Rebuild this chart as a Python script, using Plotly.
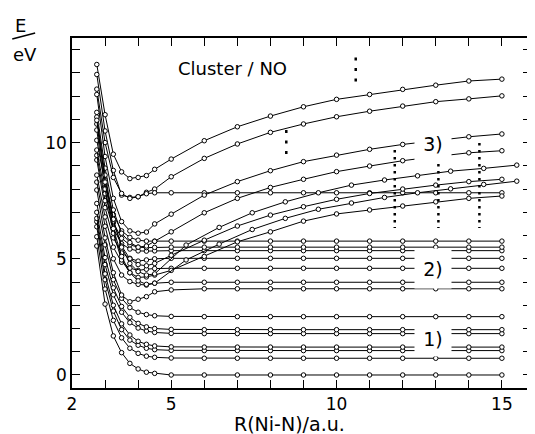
import plotly.graph_objects as go

# ---- data ----
R_INT = [2.75, 3.0, 3.25, 3.5, 3.75, 4.0, 4.25, 4.5, 5, 6, 7, 8, 9, 10, 11, 12, 13, 14, 15]
R_HALF = [2.75, 3.0, 3.25, 3.5, 3.75, 4.0, 4.25, 4.5, 5.45, 6.45, 7.45, 8.45, 9.45, 10.45, 11.45, 12.45, 13.45, 14.45, 15.45]

# group 1) low flat states
E_c0 = [5.55, 3.05, 1.68, 0.96, 0.50, 0.26, 0.12, 0.07, 0.0, 0.0, 0.0, 0.0, 0.0, 0.0, 0.0, 0.0, 0.0, 0.0, 0.0]
E_c1 = [5.95, 3.70, 2.35, 1.60, 1.15, 0.93, 0.81, 0.76, 0.73, 0.72, 0.72, 0.72, 0.72, 0.72, 0.72, 0.72, 0.72, 0.72, 0.72]
E_c2 = [6.38, 4.10, 2.75, 1.95, 1.50, 1.28, 1.15, 1.09, 1.06, 1.05, 1.05, 1.05, 1.05, 1.05, 1.05, 1.05, 1.05, 1.05, 1.05]
E_c3 = [6.60, 4.35, 3.00, 2.20, 1.72, 1.45, 1.32, 1.25, 1.21, 1.20, 1.20, 1.20, 1.20, 1.20, 1.20, 1.20, 1.20, 1.20, 1.20]
E_c4 = [6.74, 4.75, 3.45, 2.70, 2.25, 2.02, 1.89, 1.83, 1.79, 1.78, 1.78, 1.78, 1.78, 1.78, 1.78, 1.78, 1.78, 1.78, 1.78]
E_c5 = [7.00, 5.05, 3.75, 2.95, 2.48, 2.22, 2.07, 2.00, 1.96, 1.95, 1.95, 1.95, 1.95, 1.95, 1.95, 1.95, 1.95, 1.95, 1.95]
E_c6 = [7.38, 5.60, 4.10, 3.30, 2.90, 2.70, 2.60, 2.55, 2.52, 2.51, 2.51, 2.51, 2.51, 2.51, 2.51, 2.51, 2.51, 2.51, 2.51]

# group 2) flat states
E_c7 = [7.96, 5.90, 4.40, 3.44, 3.15, 3.26, 3.37, 3.58, 3.66, 3.71, 3.71, 3.71, 3.71, 3.71, 3.71, 3.71, 3.71, 3.71, 3.71]
E_c8 = [8.30, 6.40, 5.00, 4.30, 4.02, 3.90, 3.87, 3.95, 3.99, 3.99, 3.99, 3.99, 3.99, 3.99, 3.99, 3.99, 3.99, 3.99, 3.99]
E_c9 = [8.60, 6.80, 5.50, 4.85, 4.60, 4.50, 4.55, 4.58, 4.59, 4.59, 4.59, 4.59, 4.59, 4.59, 4.59, 4.59, 4.59, 4.59, 4.59]
E_c10 = [9.25, 7.20, 5.90, 5.25, 5.02, 4.90, 4.95, 5.00, 5.02, 5.02, 5.02, 5.02, 5.02, 5.02, 5.02, 5.02, 5.02, 5.02, 5.02]
E_c11 = [9.45, 7.50, 6.30, 5.65, 5.42, 5.34, 5.33, 5.34, 5.35, 5.35, 5.35, 5.35, 5.35, 5.35, 5.35, 5.35, 5.35, 5.35, 5.35]
E_c12 = [9.68, 7.80, 6.55, 5.88, 5.60, 5.50, 5.48, 5.49, 5.50, 5.50, 5.50, 5.50, 5.50, 5.50, 5.50, 5.50, 5.50, 5.50, 5.50]
E_c13 = [10.10, 8.20, 6.90, 6.20, 5.92, 5.80, 5.76, 5.76, 5.76, 5.76, 5.76, 5.76, 5.76, 5.76, 5.76, 5.76, 5.76, 5.76, 5.76]

# group 3) rising (ionic) states
E_T1 = [13.36, 11.20, 9.50, 8.74, 8.45, 8.50, 8.58, 8.85, 9.29, 10.08, 10.68, 11.14, 11.54, 11.86, 12.07, 12.29, 12.47, 12.65, 12.73]
E_T2 = [12.93, 10.50, 8.80, 7.74, 7.64, 7.67, 7.86, 8.00, 8.53, 9.32, 9.94, 10.44, 10.80, 11.11, 11.35, 11.57, 11.76, 11.88, 12.01]
E_F = [12.30, 10.00, 8.50, 7.81, 7.60, 7.67, 7.80, 7.84, 7.84, 7.84, 7.84, 7.84, 7.84, 7.84, 7.84, 7.84, 7.84, 7.84, 7.84]
E_T3 = [12.07, 9.40, 7.60, 6.60, 6.20, 6.10, 6.15, 6.50, 6.92, 7.74, 8.32, 8.79, 9.18, 9.46, 9.71, 9.92, 10.10, 10.25, 10.37]
E_T4 = [11.30, 8.90, 7.10, 6.10, 5.70, 5.50, 5.55, 5.75, 6.16, 6.98, 7.60, 8.07, 8.42, 8.75, 8.99, 9.22, 9.40, 9.56, 9.65]
E_T7 = [10.80, 8.40, 6.60, 5.55, 5.00, 4.75, 4.70, 4.80, 5.15, 5.80, 6.41, 6.88, 7.24, 7.56, 7.81, 8.00, 8.17, 8.32, 8.42]
E_T8 = [10.54, 8.00, 6.10, 4.95, 4.40, 4.20, 4.22, 4.30, 4.50, 5.10, 5.73, 6.16, 6.62, 6.93, 7.10, 7.27, 7.45, 7.60, 7.70]
E_T5 = [11.10, 8.60, 6.70, 5.50, 4.80, 4.45, 4.30, 4.35, 5.59, 6.35, 6.98, 7.45, 7.84, 8.17, 8.39, 8.57, 8.77, 8.89, 9.03]
E_T6 = [10.96, 8.30, 6.30, 5.10, 4.40, 4.05, 3.90, 3.95, 4.95, 5.63, 6.26, 6.74, 7.13, 7.40, 7.64, 7.84, 8.01, 8.20, 8.34]

CURVES_INT = [E_c0, E_c1, E_c2, E_c3, E_c4, E_c5, E_c6,
              E_c7, E_c8, E_c9, E_c10, E_c11, E_c12, E_c13,
              E_T1, E_T2, E_F, E_T3, E_T4, E_T7, E_T8]
CURVES_HALF = [E_T5, E_T6]

# dotted vertical markers (R position, E from, E to)
DOT_R = [10.58, 8.48, 11.76, 13.08, 14.32]
DOT_E0 = [13.66, 10.54, 9.68, 9.08, 9.98]
DOT_E1 = [12.63, 9.50, 6.32, 6.32, 6.32]

X_TICKS = list(range(2, 16))
X_LABELS = {2: "2", 5: "5", 10: "10", 15: "15"}
Y_TICKS = list(range(0, 15))
Y_LABELS = {0: "0", 5: "5", 10: "10"}

FONT = "DejaVu Sans, Verdana, sans-serif"

fig = go.Figure()

def add_curve(rs, es):
    fig.add_trace(go.Scatter(
        x=rs, y=es, mode="lines+markers",
        line=dict(color="black", width=1),
        marker=dict(symbol="circle", size=4.5, color="white",
                    line=dict(color="black", width=1)),
        hoverinfo="skip"))

for es in CURVES_INT:
    add_curve(R_INT, es)
for es in CURVES_HALF:
    add_curve(R_HALF, es)

for i, r in enumerate(DOT_R):
    short = i < 2
    fig.add_trace(go.Scatter(
        x=[r, r], y=[DOT_E0[i], DOT_E1[i]], mode="lines",
        line=dict(color="black", width=2.5,
                  dash="3px,7.5px" if short else "2.5px,4.5px"),
        hoverinfo="skip"))

axis_common = dict(showline=True, linecolor="black", linewidth=1.6,
                   mirror="allticks", ticks="inside", ticklen=8,
                   tickwidth=1.3, tickcolor="black", showgrid=False,
                   zeroline=False,
                   tickfont=dict(family=FONT, size=17, color="black"))

fig.update_xaxes(range=[2, 15.88], tickmode="array", tickvals=X_TICKS,
                 ticktext=[X_LABELS.get(v, "") for v in X_TICKS], **axis_common)
fig.update_yaxes(range=[-0.56, 14.5], tickmode="array", tickvals=Y_TICKS,
                 ticktext=[Y_LABELS.get(v, "") for v in Y_TICKS], **axis_common)

# the page body adds an 8px offset, so the figure is 8px smaller
OFF = 8
W, H = 535 - OFF, 434 - OFF
ML, MR, MT, MB = 72 - OFF, 2, 38 - OFF, 46
PW, PH = W - ML - MR, H - MT - MB

def px(xp):
    return (xp - OFF - ML) / PW

def py(yp):
    return (H - MB - (yp - OFF)) / PH

annots = [
    dict(text="R(Ni-N)/a.u.", x=px(290), y=py(424), size=19),
    dict(text="Cluster / NO", x=px(233), y=py(68), size=18),
    dict(text="E", x=px(20), y=py(25), size=18),
    dict(text="eV", x=px(25), y=py(54), size=18),
]
for a in annots:
    fig.add_annotation(text=a["text"], xref="paper", yref="paper",
                       x=a["x"], y=a["y"], xanchor="center", yanchor="middle",
                       showarrow=False,
                       font=dict(family=FONT, size=a["size"], color="black"))

# group labels with white boxes
labels = [("3)", 12.93, 9.96, 34), ("2)", 12.93, 4.58, 39), ("1)", 12.93, 1.57, 34)]
for t, r, e, h in labels:
    fig.add_annotation(text=t, x=r, y=e, xref="x", yref="y", showarrow=False,
                       bgcolor="white", width=36, height=h, borderpad=0,
                       font=dict(family=FONT, size=19, color="black"))

fig.add_shape(type="line", xref="paper", yref="paper",
              x0=px(12), y0=py(39), x1=px(35), y1=py(33),
              line=dict(color="black", width=1.5))

fig.update_layout(width=W, height=H, margin=dict(l=ML, r=MR, t=MT, b=MB),
                  plot_bgcolor="white", paper_bgcolor="white",
                  showlegend=False, font=dict(family=FONT))

fig.write_html("out.html")
